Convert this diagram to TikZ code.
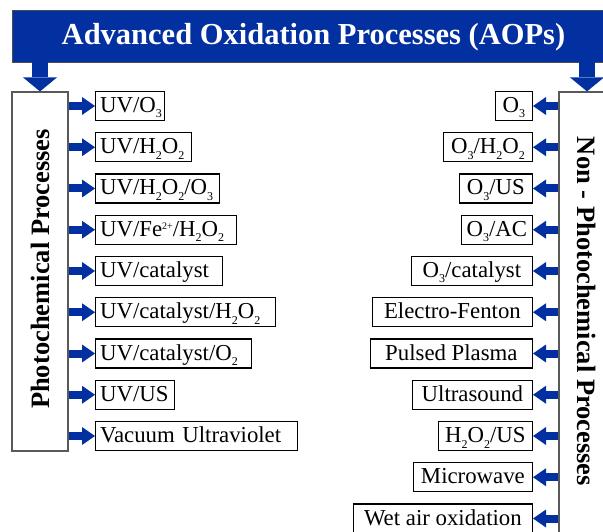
\documentclass[tikz,border=0pt]{standalone}
\usepackage{fontspec}
\setmainfont{Liberation Serif}
\usetikzlibrary{arrows.meta}
\definecolor{aopblue}{RGB}{2,48,160}
% chemical sub- and superscripts
\newcommand\lo[1]{\raisebox{-5.5pt}{\fontsize{12}{12}\selectfont #1}}
\newcommand\hi[1]{\raisebox{7pt}{\fontsize{10}{10}\selectfont #1}}
\begin{document}
\begin{tikzpicture}[x=1pt,y=-1pt,
  itemfont/.style={font=\fontsize{22.8}{26}\selectfont},
  litem/.style={draw=black, line width=1.2pt, anchor=west, minimum height=29pt,
    inner xsep=4.5pt, inner ysep=0pt, text height=15pt, text depth=2pt,
    align=left, itemfont},
  ritem/.style={draw=black, line width=1.2pt, anchor=east, minimum height=29pt,
    inner xsep=0pt, inner ysep=0pt, text height=15pt, text depth=2pt, itemfont},
  groupbox/.style={draw=black!65, line width=1.2pt, fill=white, inner sep=0pt},
  grouplabel/.style={font=\bfseries\fontsize{26.5}{28}\selectfont, inner sep=0pt},
  sidearrow/.style={draw=aopblue, line width=8pt,
    -{Triangle[length=13pt,width=18pt,line width=0pt]}},
  downarrow/.style={draw=aopblue, line width=16pt,
    -{Triangle[length=14pt,width=34pt,line width=0pt]}},
]
\path[use as bounding box, clip] (0,0) rectangle (603,532);

% title banner
\node[fill=aopblue, draw=black!70, line width=0.8pt, minimum width=603pt,
  minimum height=52pt, inner sep=0pt, text=white, text height=21pt, text depth=3pt,
  font=\bfseries\fontsize{30.5}{32}\selectfont] (banner) at (313.5,36)
  {Advanced Oxidation Processes (AOPs)};

% the two process groups
\node[groupbox, minimum width=56pt, minimum height=359pt] (photo) at (40,271.5) {};
\node[grouplabel, rotate=90] (photolabel) at (40,269) {Photochemical Processes};
\node[groupbox, minimum width=56pt, minimum height=480pt] (nonphoto) at (587,332) {};
\node[grouplabel, rotate=-90] (nonphotolabel) at (587,311.5) {Non - Photochemical Processes};

\draw[downarrow] ([yshift=1pt]banner.south -| photo.north) -- (photo.north);
\draw[downarrow] ([yshift=1pt]banner.south -| nonphoto.north) -- (nonphoto.north);

% photochemical processes
\node[litem, text width=60pt]  (l1) at (95,106)    {UV/O\lo{3}};
\node[litem, text width=87pt]  (l2) at (95,147.25) {UV/H\lo{2}O\lo{2}};
\node[litem, text width=115pt] (l3) at (95,188.5)  {UV/H\lo{2}O\lo{2}/O\lo{3}};
\node[litem, text width=132pt] (l4) at (95,229.75) {UV/Fe\hi{2+}/H\lo{2}O\lo{2}};
\node[litem, text width=118pt] (l5) at (95,271)    {UV/catalyst};
\node[litem, text width=171pt] (l6) at (95,312.25) {UV/catalyst/H\lo{2}O\lo{2}};
\node[litem, text width=147pt] (l7) at (95,353.5)  {UV/catalyst/O\lo{2}};
\node[litem, text width=70pt]  (l8) at (95,394.75) {UV/US};
\node[litem, text width=193pt] (l9) at (95,436)    {Vacuum Ultraviolet};

\foreach \n in {l1,l2,l3,l4,l5,l6,l7,l8,l9}
  \draw[sidearrow] (photo.east |- \n.west) -- (\n.west);

% non-photochemical processes
\node[ritem, minimum width=37pt]  (r1)  at (533,106)    {O\lo{3}\hspace{7pt}};
\node[ritem, minimum width=89pt]  (r2)  at (533,147.25) {O\lo{3}/H\lo{2}O\lo{2}};
\node[ritem, minimum width=73pt]  (r3)  at (533,188.5)  {O\lo{3}/US};
\node[ritem, minimum width=71pt]  (r4)  at (533,229.75) {O\lo{3}/AC};
\node[ritem, minimum width=121pt] (r5)  at (533,271)    {O\lo{3}/catalyst};
\node[ritem, minimum width=160pt] (r6)  at (533,312.25) {Electro-Fenton};
\node[ritem, minimum width=162pt] (r7)  at (533,353.5)  {Pulsed Plasma};
\node[ritem, minimum width=120pt] (r8)  at (533,394.75) {Ultrasound};
\node[ritem, minimum width=94pt]  (r9)  at (533,436)    {H\lo{2}O\lo{2}/US};
\node[ritem, minimum width=119pt] (r10) at (533,477.25) {Microwave};
\node[ritem, minimum width=179pt] (r11) at (533,518.5)  {Wet air oxidation};

\foreach \n in {r1,r2,r3,r4,r5,r6,r7,r8,r9,r10,r11}
  \draw[sidearrow] (nonphoto.west |- \n.east) -- (\n.east);
\end{tikzpicture}
\end{document}
